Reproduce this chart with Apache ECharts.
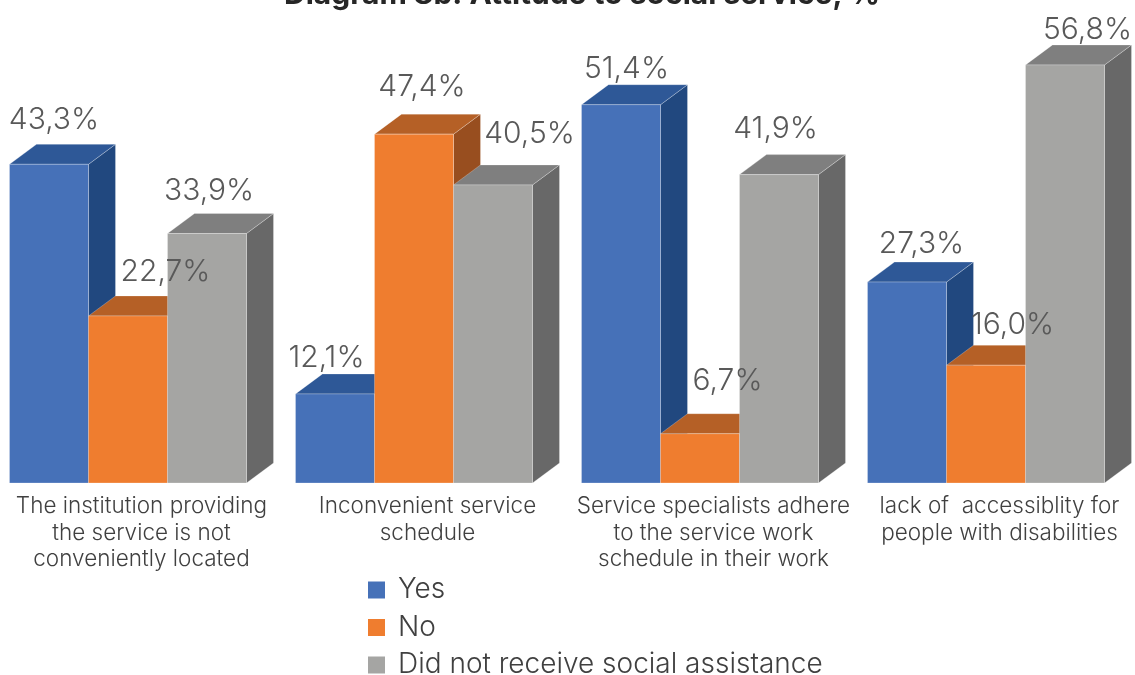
<!DOCTYPE html>
<html><head><meta charset="utf-8">
<style>html,body{margin:0;padding:0;background:#fff}#c{width:1135px;height:675px}</style>
<script src="https://cdn.jsdelivr.net/npm/echarts@6/dist/echarts.min.js"></script>
</head><body><div id="c"></div>
<script>
const titleText = 'Diagram 8b. Attitude to social service, %';
const categories = [
  'The institution providing\nthe service is not\nconveniently located',
  'Inconvenient service\nschedule',
  'Service specialists adhere\nto the service work\nschedule in their work',
  'lack of  accessiblity for\npeople with disabilities'
];
const yesValues = [43.3, 12.1, 51.4, 27.3];
const noValues = [22.7, 47.4, 6.7, 16.0];
const didNotReceiveValues = [33.9, 40.5, 41.9, 56.8];
const seriesNames = ['Yes', 'No', 'Did not receive social assistance'];
const seriesValues = [yesValues, noValues, didNotReceiveValues];
const palette = [
  {front:'#4671B8', top:'#2E5897', side:'#21487F'},
  {front:'#EF7D2F', top:'#B56026', side:'#984E1F'},
  {front:'#A5A5A3', top:'#7F7F7F', side:'#686868'}
];
// Hand-placed label nudges seen in the picture: horizontal from the bar's left edge, vertical above the roof
const labelShiftX = [[44.5, 31, 45, 54], [77, 47.5, 67, 66], [41.5, 76, 36, 62]];
const labelShiftY = [[24, 16, 16, 18], [24, 27, 33, 20], [23, 31, 26, 15]];
const font = 'Inter';
const DX = 27, DY = 20;

function geom(api, idx){
  const p = api.coord([api.value(0), api.value(1)]);
  const base = api.coord([api.value(0), 0]);
  const band = api.size([1,0])[0];
  const w = band * 79 / 286;
  const left = p[0] - (3*w + DX)/2 + idx*w;
  return {left, w, top:p[1], bottom:base[1]};
}
function barItem(idx){
  return function(params, api){
    const g = geom(api, idx), c = palette[idx];
    const s = {stroke:'rgba(255,255,255,0.25)', lineWidth:1};
    const poly = (pts, fill) => ({type:'polygon', shape:{points:pts}, style:Object.assign({fill}, s)});
    return {type:'group', children:[
      poly([[g.left+g.w,g.top],[g.left+g.w+DX,g.top-DY],[g.left+g.w+DX,g.bottom-DY],[g.left+g.w,g.bottom]], c.side),
      poly([[g.left,g.top],[g.left+DX,g.top-DY],[g.left+g.w+DX,g.top-DY],[g.left+g.w,g.top]], c.top),
      {type:'rect', shape:{x:g.left,y:g.top,width:g.w,height:g.bottom-g.top}, style:Object.assign({fill:c.front}, s)}
    ]};
  };
}
function labelItem(idx){
  return function(params, api){
    const g = geom(api, idx), i = params.dataIndex;
    return {type:'text', style:{
      x:g.left+labelShiftX[idx][i], y:g.top-DY-labelShiftY[idx][i],
      text:api.value(1).toFixed(1).replace('.',',')+'%',
      font:'300 30px '+font, fill:'#595959', align:'center', verticalAlign:'middle'
    }};
  };
}
const series = [];
seriesNames.forEach((name, idx) => {
  series.push({type:'custom', name, z:2, silent:true, renderItem:barItem(idx),
    itemStyle:{color:palette[idx].front}, encode:{x:0,y:1},
    data:seriesValues[idx].map((v,i)=>[i,v])});
});
seriesNames.forEach((name, idx) => {
  series.push({type:'custom', name:name+' labels', z:5, silent:true, renderItem:labelItem(idx),
    encode:{x:0,y:1}, data:seriesValues[idx].map((v,i)=>[i,v])});
});
const chart = echarts.init(document.getElementById('c'), null, {renderer:'canvas'});
chart.setOption({
  animation:false,
  backgroundColor:'#fff',
  title:{text:titleText, left:582, top:-20, textAlign:'center', padding:0,
    textStyle:{fontFamily:font, fontWeight:700, fontSize:30, color:'#262626'}},
  legend:{data:seriesNames, orient:'vertical', left:368, top:573, height:200, padding:0,
    itemWidth:17, itemHeight:17, itemGap:3.5,
    icon:'rect', selectedMode:false,
    textStyle:{fontFamily:font, fontWeight:300, fontSize:28, lineHeight:30, color:'#404040', padding:[4,0,0,8]}},
  grid:{left:-1.5, top:0, width:1144, height:483, outerBoundsMode:'none', containLabel:false},
  xAxis:{type:'category', data:categories,
    axisLine:{show:false}, axisTick:{show:false},
    axisLabel:{interval:0, margin:10, fontFamily:font, fontWeight:300, fontSize:22.5, lineHeight:26.5, color:'#404040'}},
  yAxis:{type:'value', min:0, max:65.625, show:false, splitLine:{show:false}},
  series
});
</script></body></html>
